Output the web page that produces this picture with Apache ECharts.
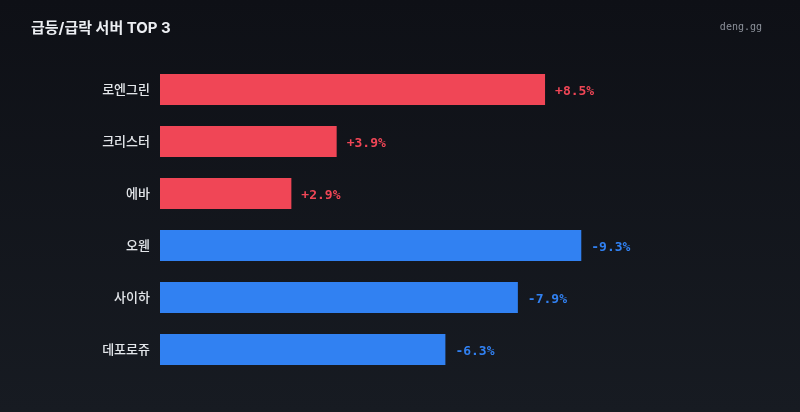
<!DOCTYPE html>
<html>
<head>
<meta charset="utf-8">
<script src="https://cdn.jsdelivr.net/npm/echarts@6/dist/echarts.min.js"></script>
<style>
  html, body { margin: 0; padding: 0; }
  body { background: linear-gradient(180deg, #0e1016 0%, #171b22 100%); }
  #chart { width: 800px; height: 412px; }
</style>
</head>
<body>
<div id="chart"></div>
<script>
// 급등/급락 서버 데이터
const servers = ["로엔그린", "크리스터", "에바", "오웬", "사이하", "데포로쥬"]
const changes = [8.5, 3.9, 2.9, -9.3, -7.9, -6.3]

const UP = "#f04656"
const DOWN = "#3181f2"

const chart = echarts.init(document.getElementById("chart"), null, { renderer: "canvas" })

const option = {
  backgroundColor: "transparent",
  animation: false,
  title: [{
    text: "급등/급락 서버 TOP 3",
    left: 26,
    top: 16,
    textStyle: {
      color: "#eceef2",
      fontSize: 15,
      fontWeight: "bold",
      fontFamily: "Inter, 'Noto Sans CJK KR', sans-serif"
    }
  }, {
    text: "deng.gg",
    right: 33,
    top: 17,
    textStyle: {
      color: "#8b9099",
      fontSize: 10,
      fontWeight: "normal",
      fontFamily: "'DejaVu Sans Mono', monospace"
    }
  }],
  grid: { left: 160, top: 63.5, width: 453, height: 312, containLabel: false },
  xAxis: {
    type: "value",
    min: 0,
    max: 10,
    show: false
  },
  yAxis: {
    type: "category",
    data: servers,
    inverse: true,
    axisLine: { show: false },
    axisTick: { show: false },
    splitLine: { show: false },
    axisLabel: {
      color: "#e3e6ea",
      fontSize: 13,
      fontWeight: 500,
      margin: 10,
      fontFamily: "'Noto Sans CJK KR', sans-serif"
    }
  },
  series: [{
    type: "bar",
    barWidth: 31,
    data: changes.map(v => ({
      value: Math.abs(v),
      itemStyle: { color: v >= 0 ? UP : DOWN },
      label: { color: v >= 0 ? UP : DOWN }
    })),
    label: {
      show: true,
      position: "right",
      distance: 10,
      offset: [0, 2],
      fontSize: 13,
      fontWeight: "bold",
      fontFamily: "'DejaVu Sans Mono', monospace",
      formatter: p => {
        const v = changes[p.dataIndex]
        return (v >= 0 ? "+" : "") + v.toFixed(1) + "%"
      }
    }
  }]
}

chart.setOption(option)
</script>
</body>
</html>
